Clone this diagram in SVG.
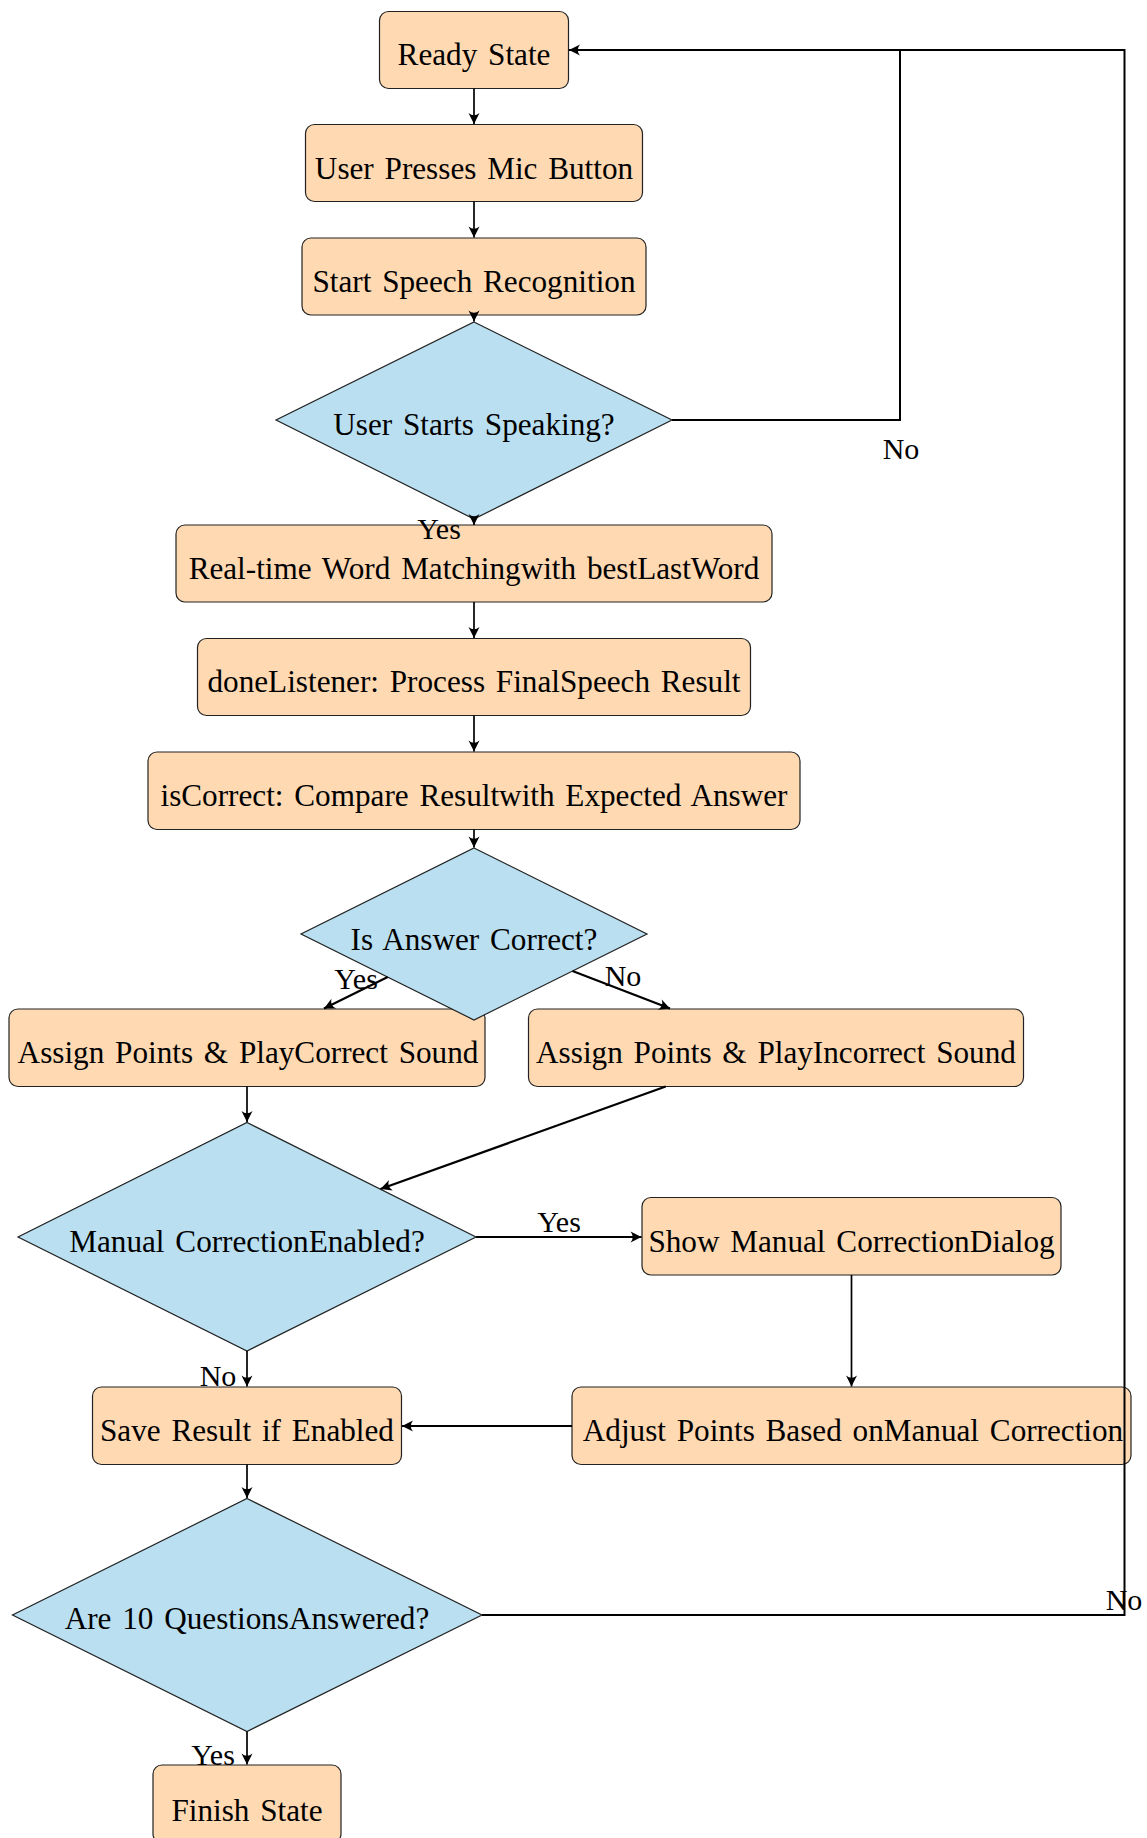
<svg xmlns="http://www.w3.org/2000/svg" width="1147" height="1838" viewBox="0 0 1147 1838">
  <defs>
    <style>
      .box { fill: #FFD9B2; stroke: #222; stroke-width: 1.2; }
      .dec { fill: #B9DFF0; stroke: #222; stroke-width: 1.2; }
      .t { font-family: "Liberation Serif", "Times New Roman", serif; font-size: 31.2px; word-spacing: 3px; fill: #000; text-anchor: middle; }
      .lbl { font-family: "Liberation Serif", "Times New Roman", serif; font-size: 30px; fill: #000; text-anchor: middle; }
      .thin { fill: none; stroke: #000; stroke-width: 1.7; marker-end: url(#tip); }
      .thick { fill: none; stroke: #000; stroke-width: 2.2; marker-end: url(#tip); }
      .loop { fill: none; stroke: #000; stroke-width: 2; }
    </style>
    <marker id="tip" markerUnits="userSpaceOnUse" viewBox="-12 -7 14 14" refX="0" refY="0" markerWidth="14" markerHeight="14" orient="auto">
      <path d="M0,0 L-11,-5.5 Q-6.5,0 -11,5.5 Z" fill="#000"/>
    </marker>
  </defs>

  <!-- process steps and decisions -->
  <g id="ready">
    <rect class="box" x="379.5" y="11.5" width="189" height="77" rx="9"/>
    <text class="t" x="474" y="65">Ready State</text>
  </g>
  <g id="mic">
    <rect class="box" x="305.5" y="124.5" width="337" height="77" rx="9"/>
    <text class="t" x="474" y="179">User Presses Mic Button</text>
  </g>
  <g id="start">
    <rect class="box" x="302" y="238" width="344" height="77" rx="9"/>
    <text class="t" x="474" y="292">Start Speech Recognition</text>
  </g>
  <g id="speaking">
    <polygon class="dec" points="474,322 672,420 474,519 276,420"/>
    <text class="t" x="474" y="435">User Starts Speaking?</text>
  </g>
  <g id="matching">
    <rect class="box" x="176" y="525" width="596" height="77" rx="9"/>
    <text class="t" x="474" y="579">Real-time Word Matchingwith bestLastWord</text>
  </g>
  <g id="done">
    <rect class="box" x="197.5" y="638.5" width="553" height="77" rx="9"/>
    <text class="t" x="474" y="692">doneListener: Process FinalSpeech Result</text>
  </g>
  <g id="compare">
    <rect class="box" x="148" y="752" width="652" height="77.5" rx="9"/>
    <text class="t" x="474" y="806">isCorrect: Compare Resultwith Expected Answer</text>
  </g>
  <g id="correct">
    <rect class="box" x="9" y="1009" width="476" height="77.5" rx="9"/>
    <text class="t" x="248" y="1063">Assign Points &amp; PlayCorrect Sound</text>
  </g>
  <g id="incorrect">
    <rect class="box" x="528.5" y="1009" width="495" height="77.5" rx="9"/>
    <text class="t" x="776" y="1063">Assign Points &amp; PlayIncorrect Sound</text>
  </g>
  <g id="answer">
    <polygon class="dec" points="474,848 647,934 474,1020 301,934"/>
    <text class="t" x="474" y="950">Is Answer Correct?</text>
  </g>
  <g id="manual">
    <polygon class="dec" points="247,1122.5 476,1237 247,1351 18,1237"/>
    <text class="t" x="247" y="1252">Manual CorrectionEnabled?</text>
  </g>
  <g id="dialog">
    <rect class="box" x="642" y="1197.5" width="419" height="77.5" rx="9"/>
    <text class="t" x="851.5" y="1252">Show Manual CorrectionDialog</text>
  </g>
  <g id="adjust">
    <rect class="box" x="572" y="1387" width="559" height="77.5" rx="9"/>
    <text class="t" x="853" y="1441">Adjust Points Based onManual Correction</text>
  </g>
  <g id="save">
    <rect class="box" x="92.5" y="1387" width="309" height="77.5" rx="9"/>
    <text class="t" x="247" y="1441">Save Result if Enabled</text>
  </g>
  <g id="questions">
    <polygon class="dec" points="247,1498.5 482,1615 247,1731.5 12.5,1615"/>
    <text class="t" x="247" y="1629">Are 10 QuestionsAnswered?</text>
  </g>
  <g id="finish">
    <rect class="box" x="153" y="1765" width="188" height="78" rx="9"/>
    <text class="t" x="247" y="1821">Finish State</text>
  </g>

  <!-- connectors -->
  <g id="connectors">
    <path class="thin" d="M474,88.5 V124"/>
    <path class="thin" d="M474,201.5 V237.5"/>
    <path class="thin" d="M474,315 V321.5"/>
    <path class="thin" d="M474,519 V525"/>
    <path class="thin" d="M474,602 V638"/>
    <path class="thin" d="M474,715.5 V751.5"/>
    <path class="thin" d="M474,829.5 V847.5"/>
    <path class="thick" d="M387.7,977 L324,1008.5"/>
    <path class="thick" d="M572.5,971 L670,1008.5"/>
    <path class="thin" d="M247,1086.5 V1122"/>
    <path class="thick" d="M665.7,1086.5 L380.5,1189"/>
    <path class="thick" d="M476,1237 H641.5"/>
    <path class="thin" d="M851.5,1275 V1386.5"/>
    <path class="thick" d="M572,1426 H402"/>
    <path class="thin" d="M247,1351 V1386.5"/>
    <path class="thin" d="M247,1464.5 V1498"/>
    <path class="thin" d="M247,1731.5 V1764.5"/>
    <path class="loop" d="M672,420 H900 V50" />
    <path class="loop" d="M482,1615 H1124.5 V50 H569" style="marker-end:url(#tip)"/>
  </g>

  <!-- branch labels -->
  <g id="labels">
    <text class="lbl" x="439" y="539">Yes</text>
    <text class="lbl" x="901" y="459">No</text>
    <text class="lbl" x="356" y="989">Yes</text>
    <text class="lbl" x="623" y="986">No</text>
    <text class="lbl" x="559" y="1232">Yes</text>
    <text class="lbl" x="218" y="1386">No</text>
    <text class="lbl" x="1124" y="1610">No</text>
    <text class="lbl" x="213" y="1765">Yes</text>
  </g>
</svg>
